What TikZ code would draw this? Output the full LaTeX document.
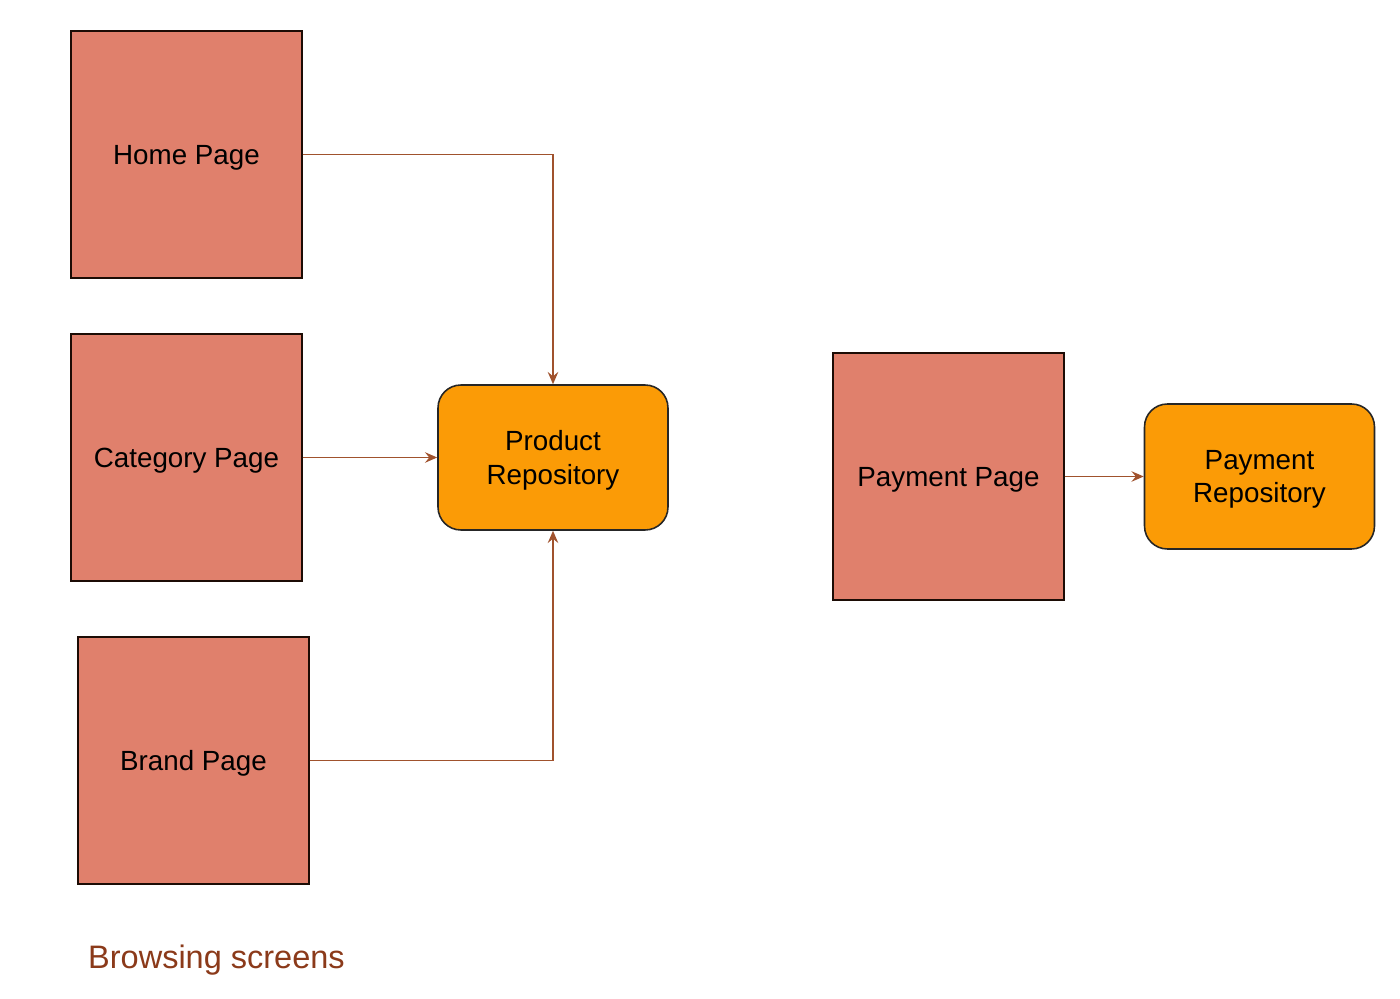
\documentclass[tikz,border=0pt]{standalone}
\usepackage{fontspec}
\setmainfont{Liberation Sans}
\usepackage{xcolor}
\usepackage{tikz}
\definecolor{pagesalmon}{RGB}{224, 128, 108}
\definecolor{repoorange}{RGB}{251, 155, 6}
\definecolor{linkbrown}{RGB}{160, 82, 45}
\definecolor{notebrown}{RGB}{139, 58, 26}
\usetikzlibrary{arrows.meta, positioning}

\begin{document}
\begin{tikzpicture}[
    x=0.02cm, y=-0.02cm,
    page/.style={rectangle, draw=black!80!notebrown, fill=pagesalmon, line width=0.8pt,
                 minimum width=4.62cm, minimum height=4.94cm, align=center, text depth=0pt,
                 font=\fontsize{15.8}{19}\selectfont},
    repo/.style={rectangle, draw=black!85, fill=repoorange, line width=0.9pt,
                 minimum width=4.6cm, minimum height=2.9cm, align=center, text depth=0pt,
                 rounded corners=13pt, font=\fontsize{15.8}{19}\selectfont},
    link/.style={-{Stealth[length=7pt, width=6pt, inset=2.5pt]}, linkbrown, line width=0.7pt}
]
    \useasboundingbox (0,0) rectangle (1400,999);

    \node[page] (home) at (186.5,154.5) {Home Page};
    \node[page] (category) at (186.5,457.5) {Category Page};
    \node[page] (brand) at (193.5,760.5) {Brand Page};
    \node[repo] (product) at (553,457.5) {Product\\Repository};
    \node[page] (payment) at (948.5,476.5) {Payment Page};
    \node[repo] (paymentrepo) at (1259.5,476.5) {Payment\\Repository};
    \node[text=notebrown, font=\fontsize{18.5}{22}\selectfont, anchor=west] (caption) at (82,960) {Browsing screens};

    \draw[link] (home.east) -| (product.north);
    \draw[link] (category.east) -- (product.west);
    \draw[link] (brand.east) -| (product.south);
    \draw[link] (payment.east) -- (paymentrepo.west);
\end{tikzpicture}
\end{document}
